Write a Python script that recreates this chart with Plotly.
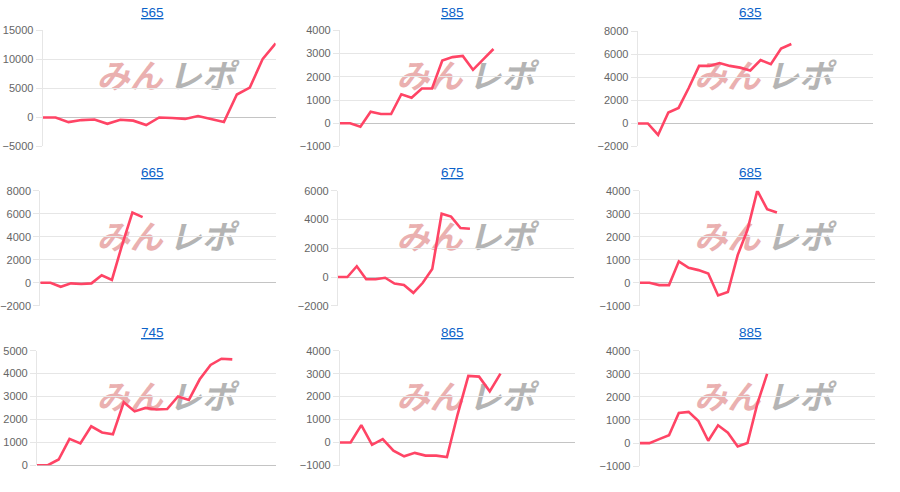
import plotly.graph_objects as go

W, H = 900, 492

titles = ["565", "585", "635", "665", "675", "685", "745", "865", "885"]

v565 = [0, 0, -800, -450, -350, -1100, -400, -550, -1300, 0, -100, -250, 250, -300, -800, 3950, 5150, 10100, 12750]
v585 = [0, 0, -150, 500, 400, 400, 1250, 1100, 1500, 1500, 2700, 2850, 2900, 2300, 2750, 3200]
v635 = [0, 0, -1000, 950, 1350, 3100, 5000, 5000, 5250, 5000, 4850, 4600, 5500, 5150, 6500, 6900]
v665 = [0, 0, -350, -50, -100, -50, 650, 250, 3300, 6100, 5700]
v675 = [0, 0, 750, -150, -150, -50, -450, -550, -1100, -400, 550, 4400, 4200, 3400, 3350]
v685 = [0, 0, -100, -100, 930, 650, 550, 400, -550, -400, 1200, 2300, 4000, 3200, 3050]
v745 = [0, 0, 250, 1150, 950, 1700, 1430, 1350, 2750, 2350, 2500, 2430, 2450, 3000, 2850, 3750, 4380, 4650, 4620]
v865 = [0, 0, 760, -100, 150, -350, -600, -450, -570, -570, -630, 1230, 2900, 2870, 2230, 3000]
v885 = [0, 0, 170, 340, 1300, 1350, 950, 100, 770, 450, -150, 0, 1700, 3000]

series = [v565, v585, v635, v665, v675, v685, v745, v865, v885]

# number of x slots on each panel's category axis
slots = [19, 24, 24, 24, 26, 25, 23, 23, 25]
# y axis ranges and tick steps
y_ranges = [(-5000, 15000), (-1000, 4000), (-2000, 8000), (-2000, 8000), (-2000, 6000),
            (-1000, 4000), (0, 5000), (-1000, 4000), (-1000, 4000)]
y_steps = [5000, 1000, 2000, 2000, 2000, 1000, 1000, 1000, 1000]

# plot area pixel boxes (left, right, top, bottom)
boxes = [
    (41.7, 275, 25, 144), (339.3, 575, 25, 144), (637.3, 873.3, 26, 144),
    (39.3, 275, 189.3, 307.3), (337.3, 573.3, 189.3, 307.3), (639.3, 875, 189.3, 307.3),
    (36, 275, 353.3, 470.7), (339.3, 575, 353.3, 471), (639.3, 875, 353.3, 471.7),
]
title_x = [152, 452, 750]
title_y = [7, 171, 335]
wm_y = [75, 240, 404]
wm_x = [165, 465, 763]

LINE = "#ff4465"
GRID = "#e6e6e6"
FONT = "Liberation Sans, Arial, sans-serif"

fig = go.Figure()
annotations = []
shapes = []
for i, vals in enumerate(series):
    r, c = divmod(i, 3)
    n = i + 1
    xa = "x" if n == 1 else f"x{n}"
    ya = "y" if n == 1 else f"y{n}"
    l, rr, t, b = boxes[i]
    fig.add_trace(go.Scatter(
        x=list(range(len(vals))), y=vals, mode="lines",
        line=dict(color=LINE, width=2.6), xaxis=xa, yaxis=ya,
        showlegend=False, hoverinfo="y"))
    xkey = "xaxis" if n == 1 else f"xaxis{n}"
    ykey = "yaxis" if n == 1 else f"yaxis{n}"
    fig.update_layout(**{
        xkey: dict(domain=[l / W, rr / W], range=[0, slots[i] - 1], showgrid=False,
                   zeroline=False, showticklabels=False, showline=False, anchor=ya,
                   fixedrange=True),
        ykey: dict(domain=[1 - b / H, 1 - t / H], range=list(y_ranges[i]), dtick=y_steps[i],
                   tick0=0, tickformat="d", showgrid=True, gridcolor=GRID, gridwidth=1,
                   zeroline=True, zerolinecolor="#c4c4c4", zerolinewidth=1,
                   showline=True, linecolor=GRID, linewidth=1,
                   ticks="outside", ticklen=6, tickcolor=GRID,
                   tickfont=dict(family=FONT, size=11, color="#666666"),
                   anchor=xa, fixedrange=True),
    })
    annotations.append(dict(
        text=f"<u>{titles[i]}</u>", x=title_x[c] / W, y=1 - title_y[r] / H,
        xref="paper", yref="paper", showarrow=False, xanchor="center", yanchor="middle",
        font=dict(family=FONT, size=13.5, color="#0b62c9")))
    cx, cy = wm_x[c], wm_y[r]
    shapes.append(dict(
        type="rect", xref="paper", yref="paper", layer="below",
        x0=(cx - 72) / W, x1=cx / W, y0=1 - (cy + 12) / H, y1=1 - (cy - 12) / H,
        line=dict(width=0), fillcolor="rgba(0,0,0,0)",
        label=dict(text="<b>みん</b>", textposition="middle center",
                   font=dict(family="Noto Sans CJK JP", size=33, color="#eab0b0",
                             weight=900, style="italic"))))
    shapes.append(dict(
        type="rect", xref="paper", yref="paper", layer="below",
        x0=cx / W, x1=(cx + 72) / W, y0=1 - (cy + 12) / H, y1=1 - (cy - 12) / H,
        line=dict(width=0), fillcolor="rgba(0,0,0,0)",
        label=dict(text="<b>レポ</b>", textposition="middle center",
                   font=dict(family="Noto Sans CJK JP", size=33, color="#b4b4b4",
                             weight=900, style="italic"))))

fig.update_layout(
    width=W, height=H, margin=dict(l=0, r=0, t=0, b=0),
    paper_bgcolor="white", plot_bgcolor="rgba(0,0,0,0)",
    annotations=annotations, shapes=shapes,
    font=dict(family=FONT),
)

fig.write_html("out.html")
